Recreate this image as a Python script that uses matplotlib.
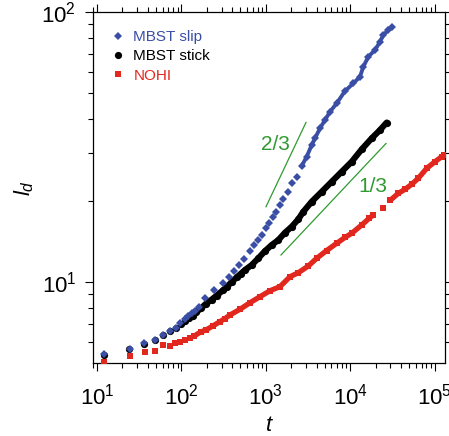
import numpy as np
import matplotlib
matplotlib.use("Agg")
import matplotlib.pyplot as plt
from matplotlib.ticker import LogLocator, NullFormatter

plt.rcParams["font.family"] = ["Liberation Sans", "DejaVu Sans"]
plt.rcParams["mathtext.fontset"] = "custom"
plt.rcParams["mathtext.rm"] = "Liberation Sans"
plt.rcParams["mathtext.it"] = "Liberation Sans:italic"

# MBST slip (blue diamonds)
t_slip = [12.2, 24.4, 36.3, 48.7, 61.0, 73.2, 85.6, 97.0, 110.3, 120.7, 132.4, 145, 163,
          190.4, 243.4, 313.6, 369, 423.6, 485.3, 551.7, 649.9, 724.8, 815, 894, 1005.6,
          1100, 1227, 1321, 1473, 1612, 1817, 2061, 2323, 2664, 3052, 3499, 3828, 4387,
          5028, 5764, 6918, 8678, 10883, 13066, 14298, 16391, 19670, 22550, 24680, 28280,
          31020]
l_slip = [5.40, 5.66, 5.93, 6.11, 6.36, 6.58, 6.75, 7.03, 7.27, 7.48, 7.66, 7.83, 8.10,
          8.70, 9.34, 9.94, 10.41, 11.01, 11.56, 12.14, 13.06, 13.71, 14.30, 14.93, 15.81,
          16.58, 17.46, 18.21, 19.29, 20.24, 21.59, 23.21, 24.55, 26.89, 29.12, 32.17,
          34.06, 37.10, 39.81, 42.72, 45.91, 50.97, 54.43, 57.58, 62.73, 68.31, 72.32,
          77.62, 82.18, 85.77, 87.78]

# MBST stick (black circles)
t_stick = [12.2, 24.1, 36.3, 48.7, 61.0, 73.2, 85.6, 98.1, 110.3, 123, 136.1, 148.9,
           170.7, 195.6, 228.6, 262, 313.6, 344, 394.5, 452.1, 508.4, 567, 680.7, 815,
           978.4, 1175, 1407, 1689, 2027, 2427, 2782, 3499, 4596, 6037, 7930, 10420,
           13690, 17970, 22550, 27070]
l_stick = [5.35, 5.64, 5.89, 6.10, 6.34, 6.58, 6.73, 6.96, 7.17, 7.35, 7.51, 7.71, 7.99,
           8.31, 8.61, 8.91, 9.34, 9.58, 10.0, 10.41, 10.75, 11.08, 11.56, 12.24, 13.02,
           13.71, 14.30, 15.23, 16.03, 17.07, 18.21, 19.84, 21.59, 23.52, 25.62, 27.90,
           31.01, 34.06, 36.56, 38.96]

# NOHI (red squares)
t_nohi = [12.2, 24.6, 37.0, 48.7, 61.0, 73.2, 84.0, 96.2, 110.3, 126.5, 142.2, 170.7,
          195.6, 238.8, 286.6, 328.6, 376.5, 494.8, 649.9, 853.6, 1121, 1473, 1935, 2427,
          3188, 4010, 5267, 6918, 8678, 10420, 13690, 16700, 18780, 24470, 29620, 37150,
          44600, 53550, 64120, 80630, 101100, 121400, 129300]
l_nohi = [5.04, 5.32, 5.52, 5.57, 5.84, 5.79, 5.93, 6.01, 6.10, 6.22, 6.31, 6.54, 6.64,
          6.89, 7.13, 7.32, 7.55, 7.92, 8.38, 8.82, 9.28, 9.61, 10.46, 10.82, 11.46, 12.24,
          13.08, 13.91, 14.62, 15.15, 16.26, 17.19, 17.71, 18.80, 20.04, 21.30, 22.04,
          23.01, 24.22, 26.37, 27.90, 29.12, 29.42]

# guide lines
t_23 = [1005.6, 2995]
l_23 = [19.0, 39.0]
t_13 = [1514, 26560]
l_13 = [12.59, 32.6]

blue = "#3a4ea6"
red = "#e2281e"
green = "#2f9a2f"

fig = plt.figure(figsize=(4.49, 4.36), dpi=100)
ax = fig.add_axes([0.2071, 0.1674, 0.784, 0.805])

# dense parts drawn as a band under the markers
ax.plot(t_slip[33:], l_slip[33:], "-", color=blue, lw=2.8, solid_capstyle="round")
ax.plot(t_stick[11:], l_stick[11:], "-", color="black", lw=4.4, solid_capstyle="round")
ax.plot(t_nohi[10:33], l_nohi[10:33], "-", color=red, lw=3.8, solid_capstyle="butt")
ax.plot(t_nohi[34:], l_nohi[34:], "-", color=red, lw=3.8, solid_capstyle="butt")

ax.plot(t_stick, l_stick, "o", color="black", ms=5.2, mew=0, label="MBST stick", zorder=3)
ax.plot(t_slip, l_slip, "D", color=blue, ms=3.6, mew=0, label="MBST slip", zorder=4)
ax.plot(t_nohi, l_nohi, "s", color=red, ms=4.6, mew=0, label="NOHI", zorder=3)

ax.plot(t_23, l_23, color=green, lw=0.9)
ax.plot(t_13, l_13, color=green, lw=0.9)
ax.text(1285, 32.2, "2/3", color=green, fontsize=15, ha="center", va="center")
ax.text(18480, 22.54, "1/3", color=green, fontsize=15, ha="center", va="center")

ax.set_xscale("log")
ax.set_yscale("log")
ax.set_xlim(8.97, 132800)
ax.set_ylim(5.01, 100)
ax.xaxis.set_major_locator(LogLocator(base=10, numticks=10))
ax.xaxis.set_minor_locator(LogLocator(base=10, subs=np.arange(2, 10), numticks=20))
ax.yaxis.set_minor_locator(LogLocator(base=10, subs=np.arange(2, 10), numticks=20))
ax.xaxis.set_minor_formatter(NullFormatter())
ax.yaxis.set_minor_formatter(NullFormatter())
ax.set_yticks([10, 100])

ax.tick_params(which="both", direction="out", top=True, right=True, width=0.8)
ax.tick_params(which="major", length=6, labelsize=16, pad=6)
ax.tick_params(axis="x", which="major", pad=9)
ax.tick_params(which="minor", length=3.5)
for s in ax.spines.values():
    s.set_linewidth(0.9)

ax.set_xlabel(r"$t$", fontsize=16, labelpad=4)
ax.set_ylabel(r"$l_d$", fontsize=16, labelpad=4)

h, lab = ax.get_legend_handles_labels()
order = [1, 0, 2]
leg = ax.legend([h[i] for i in order], [lab[i] for i in order], loc="upper left",
                bbox_to_anchor=(0.054, 0.949), frameon=False, fontsize=11,
                handlelength=0.8, handletextpad=0.6, labelspacing=0.35, borderpad=0,
                borderaxespad=0)
for txt, c in zip(leg.get_texts(), [blue, "black", red]):
    txt.set_color(c)

fig.savefig("out.png", dpi=100)
